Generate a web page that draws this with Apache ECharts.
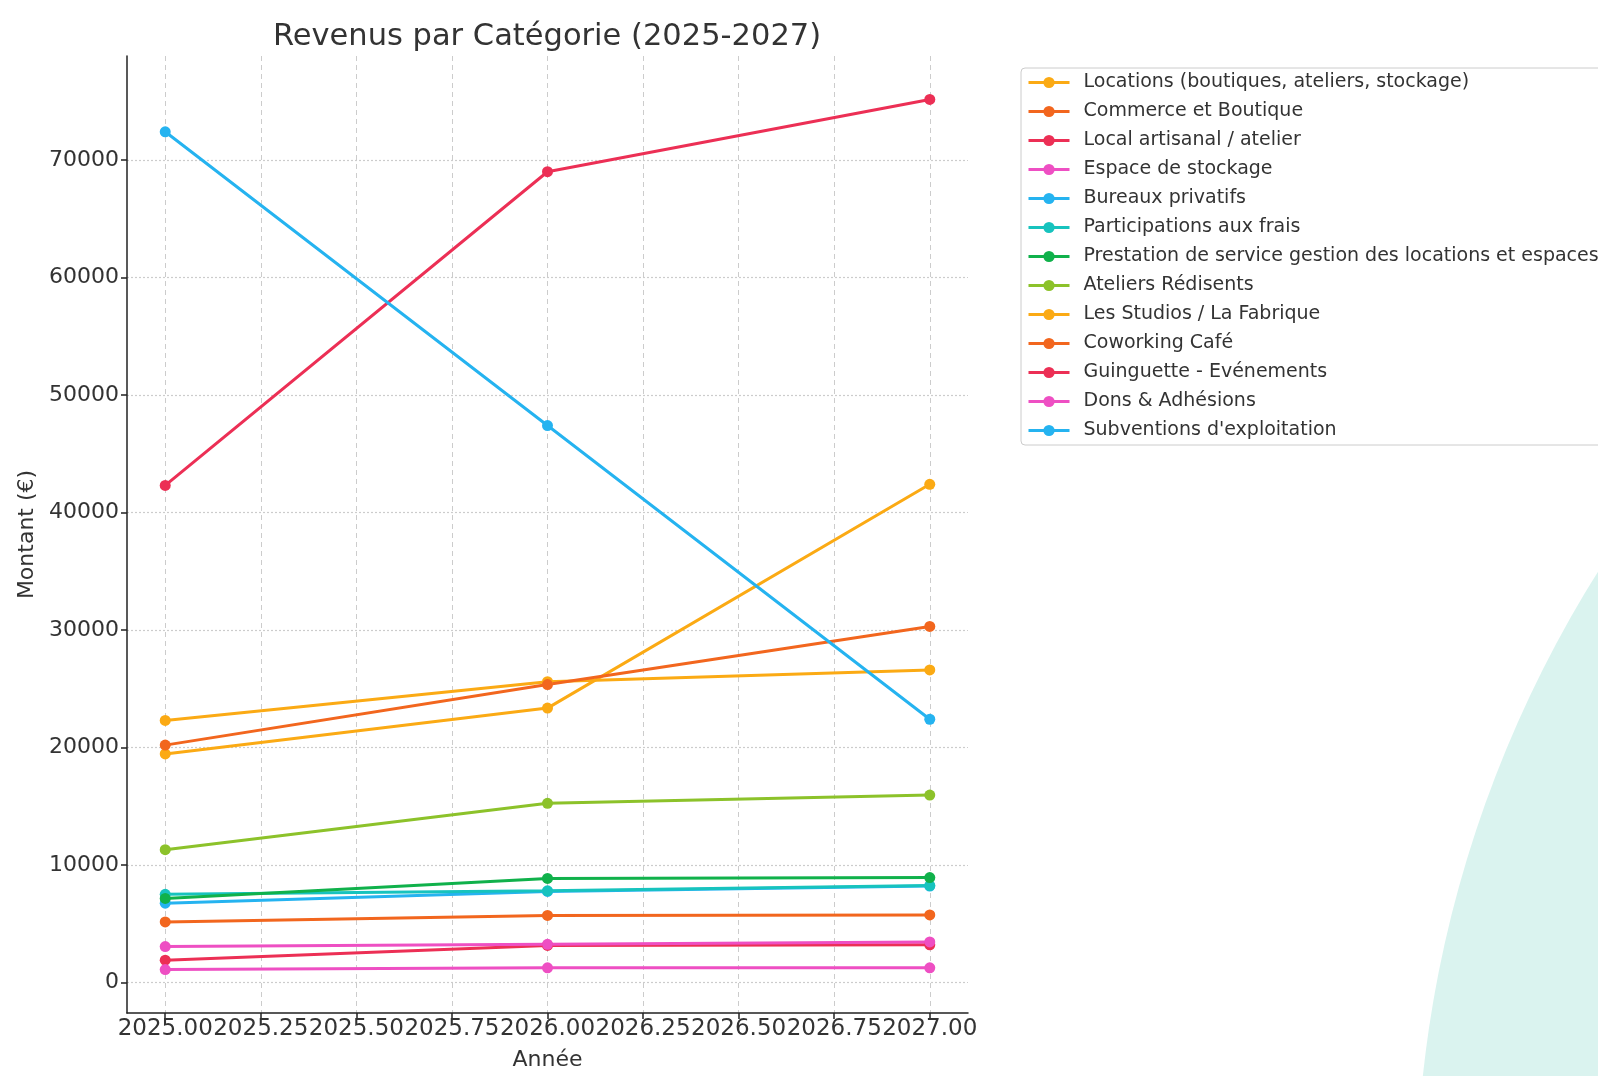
<!DOCTYPE html>
<html>
<head>
<meta charset="utf-8">
<script src="https://cdn.jsdelivr.net/npm/echarts@6/dist/echarts.min.js"></script>
<style>
html,body{margin:0;padding:0;background:#fff;}
#c{width:1598px;height:1076px;}
</style>
</head>
<body>
<div id="c"></div>
<script>
const years = [2025, 2026, 2027];
const xTicks = [2025, 2025.25, 2025.5, 2025.75, 2026, 2026.25, 2026.5, 2026.75, 2027];
const yTicks = [0, 10000, 20000, 30000, 40000, 50000, 60000, 70000];

const seriesNames = [
  "Locations (boutiques, ateliers, stockage)",
  "Commerce et Boutique",
  "Local artisanal / atelier",
  "Espace de stockage",
  "Bureaux privatifs",
  "Participations aux frais",
  "Prestation de service gestion des locations et espaces",
  "Ateliers Rédisents",
  "Les Studios / La Fabrique",
  "Coworking Café",
  "Guinguette - Evénements",
  "Dons & Adhésions",
  "Subventions d'exploitation"
];

const locations = [22300, 25600, 26600];
const commerce = [5150, 5700, 5750];
const localArtisanal = [1900, 3150, 3200];
const espaceStockage = [3050, 3250, 3450];
const bureaux = [6750, 7750, 8200];
const participations = [7500, 7800, 8250];
const prestation = [7150, 8850, 8930];
const ateliers = [11300, 15250, 15950];
const studios = [19450, 23350, 42400];
const coworking = [20200, 25350, 30300];
const guinguette = [42300, 69000, 75150];
const dons = [1100, 1250, 1250];
const subventions = [72400, 47400, 22400];

const seriesValues = [locations, commerce, localArtisanal, espaceStockage, bureaux, participations,
  prestation, ateliers, studios, coworking, guinguette, dons, subventions];

const palette = ["#FBAA14", "#F2661E", "#EC2F55", "#EE4FC3", "#25B3F0", "#17C3BE", "#10B14B", "#8CC22A"];

const chart = echarts.init(document.getElementById('c'));
const font = "DejaVu Sans";
const textColor = "#333";

const series = seriesNames.map((name, i) => ({
  name: name,
  type: 'line',
  data: years.map((y, j) => [y, seriesValues[i][j]]),
  symbol: 'circle',
  symbolSize: 11,
  lineStyle: { width: 3, color: palette[i % palette.length] },
  itemStyle: { color: palette[i % palette.length] },
  emphasis: { disabled: true },
  animation: false
}));

chart.setOption({
  backgroundColor: '#fff',
  animation: false,
  graphic: [{
    type: 'circle',
    z: -10,
    silent: true,
    shape: { cx: 2602, cy: 1203, r: 1186 },
    style: { fill: '#DAF3EF' }
  }],
  title: {
    text: 'Revenus par Catégorie (2025-2027)',
    left: 542,
    textAlign: 'center',
    top: 17,
    textStyle: { fontFamily: font, fontSize: 30.5, fontWeight: 'normal', color: textColor }
  },
  legend: {
    orient: 'vertical',
    left: 1021,
    top: 68,
    padding: [5, 40, 5, 6],
    itemWidth: 41,
    itemHeight: 14,
    itemGap: 10,
    backgroundColor: '#fff',
    borderColor: '#cccccc',
    borderWidth: 1,
    borderRadius: 4,
    lineStyle: { width: 3 },
    textStyle: { fontFamily: font, fontSize: 19, color: textColor, padding: [0, 0, 0, 9] },
    data: seriesNames
  },
  grid: { left: 127, right: 630, top: 56, bottom: 54, containLabel: false },
  xAxis: {
    type: 'value',
    min: 2024.9,
    max: 2027.1,
    name: 'Année',
    nameLocation: 'middle',
    nameGap: 36,
    nameTextStyle: { fontFamily: font, fontSize: 22, color: textColor },
    axisLine: { show: true, onZero: false, lineStyle: { color: '#222', width: 1.5 } },
    axisTick: { show: true, inside: false, length: 6, customValues: xTicks, lineStyle: { color: '#222', width: 1.5 } },
    axisLabel: { customValues: xTicks, margin: 5, fontFamily: font, fontSize: 23, color: textColor,
      formatter: v => Number(v).toFixed(2) },
    splitLine: { show: true, lineStyle: { color: '#cccccc', type: [5, 4], width: 1 } }
  },
  yAxis: {
    type: 'value',
    min: -2600,
    max: 78850,
    name: 'Montant (€)',
    nameLocation: 'middle',
    nameGap: 86,
    nameTextStyle: { fontFamily: font, fontSize: 22, color: textColor },
    axisLine: { show: true, lineStyle: { color: '#222', width: 1.5 } },
    axisTick: { show: true, inside: false, length: 6, customValues: yTicks, lineStyle: { color: '#222', width: 1.5 } },
    axisLabel: { customValues: yTicks, margin: 8, fontFamily: font, fontSize: 22, color: textColor,
      formatter: v => String(v) },
    splitLine: { show: true, lineStyle: { color: '#cccccc', type: [2, 2], width: 1.2 } }
  },
  series: series
});
</script>
</body>
</html>
